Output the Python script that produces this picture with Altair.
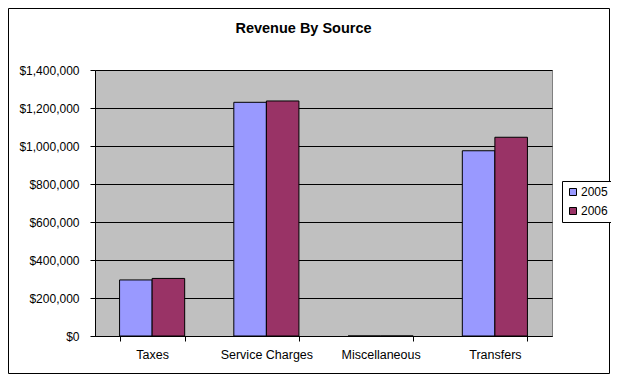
import altair as alt
import pandas as pd

categories = ["Taxes", "Service Charges", "Miscellaneous", "Transfers"]
years = ["2005", "2006"]
values_2005 = [295000, 1230000, 0, 975000]
values_2006 = [303000, 1237000, 0, 1046000]
y_ticks = [0, 200000, 400000, 600000, 800000, 1000000, 1200000, 1400000]
colors = ["#9999FF", "#993366"]
title_text = "Revenue By Source"

rows = []
for c, v5, v6 in zip(categories, values_2005, values_2006):
    rows.append({"category": c, "year": years[0], "value": v5})
    rows.append({"category": c, "year": years[1], "value": v6})
df = pd.DataFrame(rows)

FONT = "Liberation Sans"
W, H = 457, 266
PL, PT, PR, PB = 87, 62, 59, 39

bars = alt.Chart(df).mark_bar(stroke="black", strokeWidth=1).encode(
    x=alt.X("category:N", sort=categories,
            scale=alt.Scale(paddingInner=0.43, paddingOuter=0.215),
            axis=alt.Axis(title=None, labelAngle=0, tickBand="extent",
                          domainColor="black", tickColor="black", tickSize=5,
                          labelPadding=7, labelFontSize=12.5, labelColor="black",
                          labelFont=FONT, grid=False)),
    xOffset=alt.XOffset("year:N", sort=years,
                        scale=alt.Scale(paddingInner=0, paddingOuter=0)),
    y=alt.Y("value:Q", scale=alt.Scale(domain=[0, 1400000], nice=False),
            axis=alt.Axis(title=None, values=y_ticks, format="$,.0f",
                          domainColor="black", tickColor="black", tickSize=5,
                          labelPadding=11, labelFontSize=12, labelColor="black",
                          labelFont=FONT, grid=True, gridColor="black",
                          gridWidth=1, gridOpacity=1)),
    color=alt.Color("year:N", sort=years,
                    scale=alt.Scale(domain=years, range=colors),
                    legend=alt.Legend(title=None, orient="none",
                                      legendX=467, legendY=111,
                                      strokeColor="black", fillColor="white",
                                      padding=5, symbolType="square",
                                      symbolSize=49, symbolStrokeColor="black",
                                      symbolStrokeWidth=1, labelFontSize=12,
                                      labelFont=FONT, labelColor="black",
                                      labelOffset=2, rowPadding=7,
                                      symbolOffset=0)),
)

frame = alt.Chart(pd.DataFrame({"a": [0]})).mark_rect(
    fillOpacity=0, stroke="black", strokeWidth=1, clip=False
).encode(
    x=alt.value(-PL + 0.5), x2=alt.value(W + PR - 1.5),
    y=alt.value(-PT + 0.5), y2=alt.value(H + PB - 1.5),
)

title = alt.Chart(pd.DataFrame({"t": [title_text]})).mark_text(
    font=FONT, fontSize=14.5, fontWeight="bold", color="black",
    align="center", baseline="alphabetic", clip=False
).encode(
    text="t:N", x=alt.value(208.5), y=alt.value(-37),
)

chart = alt.layer(bars, frame, title).properties(
    width=W, height=H,
    autosize=alt.AutoSizeParams(type="none"),
    padding={"left": PL, "top": PT, "right": PR, "bottom": PB},
).configure_view(fill="#C0C0C0", stroke="#808080", strokeWidth=1)

chart.save("out.html", embed_options={"renderer": "svg", "actions": False})
